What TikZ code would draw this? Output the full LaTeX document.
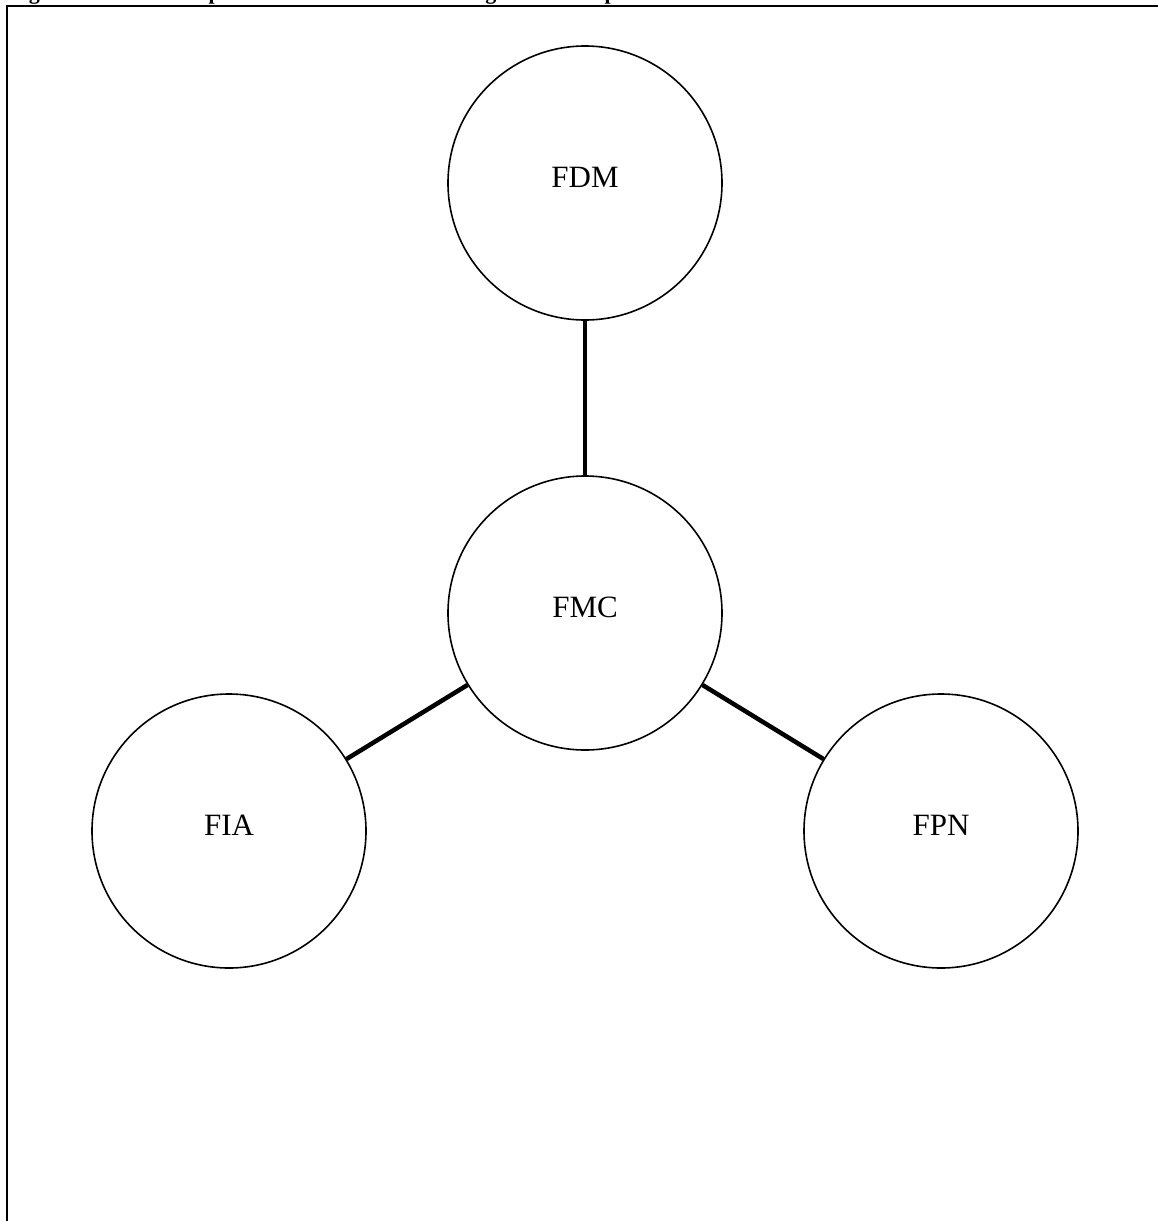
\documentclass[tikz,border=0pt]{standalone}
\usepackage{fontspec}
\setmainfont{Liberation Serif}
% label set with its baseline a little below the circle centre
\newcommand{\partlabel}[1]{\raisebox{-4pt}[0pt][0pt]{#1}}
\begin{document}
\begin{tikzpicture}[x=1pt,y=-1pt,
  part/.style={circle,draw,line width=1.6pt,minimum size=274pt,inner sep=0pt,font=\fontsize{31}{33}\selectfont},
  link/.style={line width=4.5pt}]
\useasboundingbox (0,0) rectangle (1158,1221);
% caption line, mostly above the page edge
\begin{scope}
  \clip (0,0) rectangle (1158,1221);
  \node[anchor=base west,inner sep=0pt,font=\bfseries\fontsize{22}{24}\selectfont] (cap) at (9,-0.5)
    {Figure 1: Relationship of the Four Financial Management Components};
\end{scope}
% frame
\draw[line width=2.4pt] (7,1221) -- (7,6) -- (1158,6);
% components
\node[part] (fdm) at (585,183) {\partlabel{FDM}};
\node[part] (fmc) at (585,613) {\partlabel{FMC}};
\node[part] (fia) at (229,831) {\partlabel{FIA}};
\node[part] (fpn) at (941,831) {\partlabel{FPN}};
% links
\draw[link] (fdm) -- (fmc);
\draw[link] (fmc) -- (fia);
\draw[link] (fmc) -- (fpn);
\end{tikzpicture}
\end{document}
